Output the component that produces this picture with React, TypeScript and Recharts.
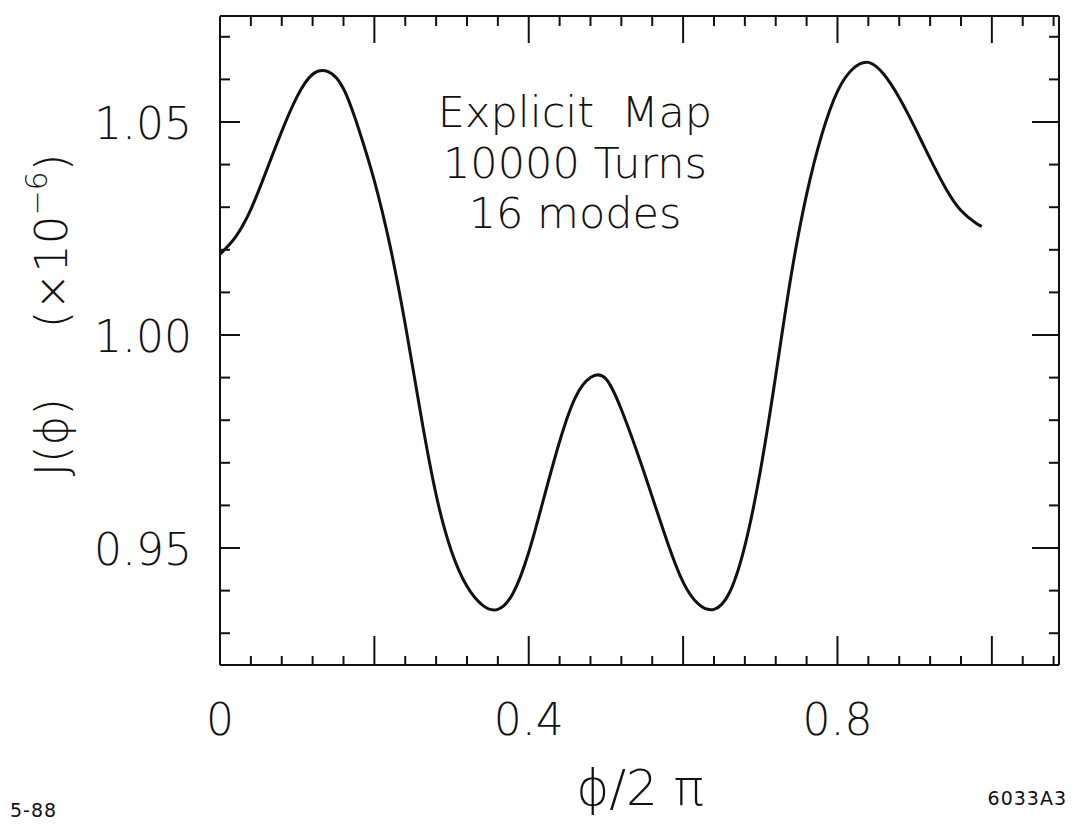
import React from 'react';
import { LineChart, Line, XAxis, YAxis } from 'recharts';

// phi / 2pi
const phiValues = [
  0, 0.02, 0.04, 0.06, 0.08, 0.1, 0.12, 0.14, 0.16, 0.18, 0.2, 0.22, 0.24, 0.26,
  0.28, 0.3, 0.32, 0.34, 0.36, 0.38, 0.4, 0.42, 0.44, 0.46, 0.48, 0.5, 0.52,
  0.54, 0.56, 0.58, 0.6, 0.62, 0.64, 0.66, 0.68, 0.7, 0.72, 0.74, 0.76, 0.78,
  0.8, 0.82, 0.84, 0.86, 0.88, 0.9, 0.92, 0.94, 0.96, 0.98, 0.987,
];
// J(phi) x 1e-6
const jValues = [
  1.019, 1.023, 1.0295, 1.0385, 1.0478, 1.056, 1.0612, 1.0618, 1.0578, 1.0482,
  1.0362, 1.0212, 1.0025, 0.9815, 0.9625, 0.9492, 0.941, 0.9366, 0.9356, 0.9395,
  0.949, 0.962, 0.975, 0.9852, 0.99, 0.9897, 0.9825, 0.9727, 0.962, 0.9512,
  0.942, 0.9368, 0.9356, 0.9395, 0.9505, 0.968, 0.9905, 1.014, 1.033, 1.0472,
  1.0572, 1.0625, 1.064, 1.0612, 1.0557, 1.0488, 1.0414, 1.0345, 1.0292, 1.0262,
  1.0255,
];

const xTicks = [
  0, 0.04, 0.08, 0.12, 0.16, 0.2, 0.24, 0.28, 0.32, 0.36, 0.4, 0.44, 0.48, 0.52,
  0.56, 0.6, 0.64, 0.68, 0.72, 0.76, 0.8, 0.84, 0.88, 0.92, 0.96, 1.0, 1.04, 1.08,
];
const xMajorTicks = [0, 0.2, 0.4, 0.6, 0.8, 1.0];
const xLabelValues = [0, 0.4, 0.8];
const xLabelTexts = ['0', '0.4', '0.8'];

const yTicks = [
  0.93, 0.94, 0.95, 0.96, 0.97, 0.98, 0.99, 1.0, 1.01, 1.02, 1.03, 1.04, 1.05,
  1.06, 1.07,
];
const yMajorTicks = [0.95, 1.0, 1.05];
const yLabelTexts = ['0.95', '1.00', '1.05'];

const annotationLines = ['Explicit  Map', '10000 Turns', '16 modes'];
const xAxisTitle = 'ϕ/2 π';
const footLeft = '5-88';
const footRight = '6033A3';

const data = phiValues.map((p, i) => ({ phi: p, J: jValues[i] }));

const FONT = "'DejaVu Sans', 'Liberation Sans', sans-serif";
const INK = '#111';

const near = (a: number, b: number) => Math.abs(a - b) < 1e-6;
const isMajor = (v: number, list: number[]) => list.some((m) => near(m, v));
const labelIdx = (v: number, list: number[]) => list.findIndex((m) => near(m, v));

const BottomTick = (props: any) => {
  const { x, y, payload } = props;
  const v = payload.value;
  const len = isMajor(v, xMajorTicks) ? 29 : 9;
  const li = labelIdx(v, xLabelValues);
  return (
    <g>
      <line x1={x} y1={y} x2={x} y2={y - len} stroke={INK} strokeWidth={2} />
      {li >= 0 && (
        <text x={x} y={y + 70} textAnchor="middle" fontFamily={FONT} fontWeight={200} fontSize={44} fill={INK}>
          {xLabelTexts[li]}
        </text>
      )}
    </g>
  );
};

const TopTick = (props: any) => {
  const { x, y, payload } = props;
  const len = isMajor(payload.value, xMajorTicks) ? 27 : 10;
  return <line x1={x} y1={y} x2={x} y2={y + len} stroke={INK} strokeWidth={2} />;
};

const LeftTick = (props: any) => {
  const { x, y, payload } = props;
  const v = payload.value;
  const li = labelIdx(v, yMajorTicks);
  const len = li >= 0 ? 20 : 10;
  return (
    <g>
      <line x1={x} y1={y} x2={x + len} y2={y} stroke={INK} strokeWidth={2} />
      {li >= 0 && (
        <text x={x - 28} y={y + 17} textAnchor="end" fontFamily={FONT} fontWeight={200} fontSize={44} fill={INK}>
          {yLabelTexts[li]}
        </text>
      )}
    </g>
  );
};

const RightTick = (props: any) => {
  const { x, y, payload } = props;
  const len = isMajor(payload.value, yMajorTicks) ? 27 : 10;
  return <line x1={x} y1={y} x2={x - len} y2={y} stroke={INK} strokeWidth={2} />;
};

const axisLine = { stroke: INK, strokeWidth: 2 };
const X_DOMAIN: [number, number] = [0, 1.087];
const Y_DOMAIN: [number, number] = [0.92254, 1.07488];

export default function App() {
  return (
    <div style={{ position: 'relative', width: 1065, height: 816 }}>
      <LineChart
        width={1065}
        height={816}
        data={data}
        margin={{ top: 7, right: 13, left: 0, bottom: 0 }}
      >
        <XAxis
          xAxisId="bottom"
          dataKey="phi"
          type="number"
          domain={X_DOMAIN}
          ticks={xTicks}
          interval={0}
          height={159}
          tickSize={0}
          tickMargin={0}
          tickLine={false}
          axisLine={axisLine}
          tick={(p: any) => <BottomTick {...p} />}
          allowDataOverflow
        />
        <XAxis
          xAxisId="top"
          orientation="top"
          dataKey="phi"
          type="number"
          domain={X_DOMAIN}
          ticks={xTicks}
          interval={0}
          height={1}
          tickSize={0}
          tickMargin={0}
          tickLine={false}
          axisLine={axisLine}
          tick={(p: any) => <TopTick {...p} />}
          allowDataOverflow
        />
        <YAxis
          yAxisId="left"
          type="number"
          domain={Y_DOMAIN}
          ticks={yTicks}
          interval={0}
          width={212}
          tickSize={0}
          tickMargin={0}
          tickLine={false}
          axisLine={axisLine}
          tick={(p: any) => <LeftTick {...p} />}
          allowDataOverflow
        />
        <YAxis
          yAxisId="right"
          orientation="right"
          type="number"
          domain={Y_DOMAIN}
          ticks={yTicks}
          interval={0}
          width={1}
          tickSize={0}
          tickMargin={0}
          tickLine={false}
          axisLine={axisLine}
          tick={(p: any) => <RightTick {...p} />}
          allowDataOverflow
        />
        <Line
          xAxisId="bottom"
          yAxisId="left"
          type="natural"
          dataKey="J"
          stroke={INK}
          strokeWidth={3}
          dot={false}
          activeDot={false}
          isAnimationActive={false}
        />
      </LineChart>
      <svg
        width={1065}
        height={816}
        style={{ position: 'absolute', left: 0, top: 0, pointerEvents: 'none' }}
      >
        <g fontFamily={FONT} fontWeight={200} fill={INK}>
          {annotationLines.map((t, i) => (
            <text key={i} x={567} y={119 + i * 50.5} textAnchor="middle" fontSize={43} style={{ whiteSpace: 'pre' }}>
              {t}
            </text>
          ))}
          <text x={632} y={797} textAnchor="middle" fontSize={50}>
            {xAxisTitle}
          </text>
          <text
            transform="rotate(-90, 59, 307)"
            x={59}
            y={307}
            textAnchor="middle"
            fontSize={45}
            style={{ whiteSpace: 'pre' }}
          >
            <tspan>J(ϕ)</tspan>
            <tspan dx={70}>(×10</tspan>
            <tspan fontSize={30} dy={-20}>−6</tspan>
            <tspan dy={20}>)</tspan>
          </text>
          <text x={2} y={809} fontSize={19} fontWeight={400} letterSpacing={1}>
            {footLeft}
          </text>
          <text x={1059} y={797} textAnchor="end" fontSize={19} fontWeight={400} letterSpacing={1}>
            {footRight}
          </text>
        </g>
      </svg>
    </div>
  );
}
